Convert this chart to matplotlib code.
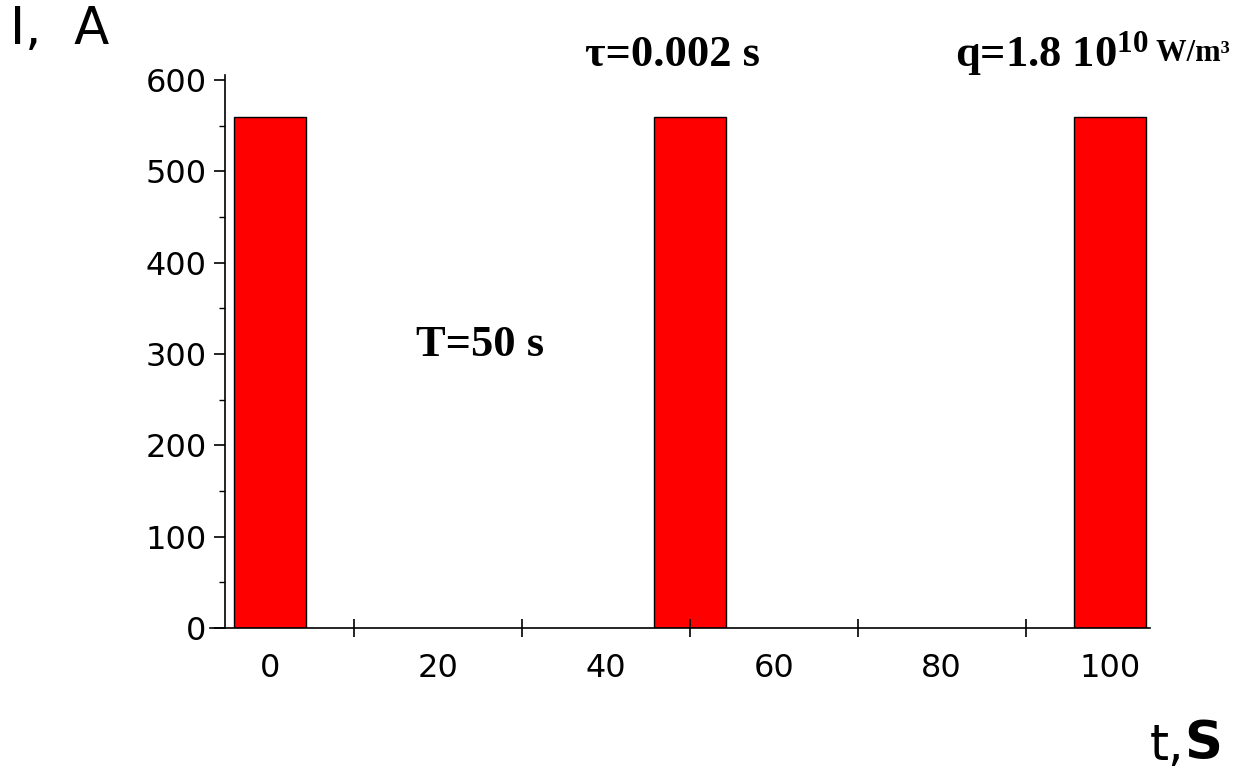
import numpy as np
import matplotlib.pyplot as plt
from matplotlib.ticker import FixedLocator, NullFormatter

plt.rcParams['mathtext.fontset'] = 'custom'
plt.rcParams['mathtext.rm'] = 'Liberation Serif:bold'
plt.rcParams['mathtext.bf'] = 'Liberation Serif:bold'
plt.rcParams['mathtext.it'] = 'Liberation Serif:bold'

# pulse data
pulse_t = [0, 50, 100]          # s, centre of each pulse
pulse_I = [560, 560, 560]       # A
pulse_w = 8.6                   # drawn width of a pulse, in s units

x_labels = [0, 20, 40, 60, 80, 100]
x_marks = [10, 30, 50, 70, 90]
y_major = [0, 100, 200, 300, 400, 500, 600]
y_minor = [50, 150, 250, 350, 450, 550]

W, H = 1254, 769
fig = plt.figure(figsize=(W / 100, H / 100), dpi=100)
ax = fig.add_axes([210 / W, 1 - 628 / H, 940 / W, 553 / H])

ax.bar(pulse_t, pulse_I, width=pulse_w, color='#ff0000',
       edgecolor='black', linewidth=1.0, zorder=1)

ax.set_xlim(-7.14, 104.8)
ax.set_ylim(0, 605.5)

for s in ['top', 'right']:
    ax.spines[s].set_visible(False)
ax.spines['left'].set_position(('data', -5.4))
ax.spines['left'].set_linewidth(1.2)
ax.spines['bottom'].set_linewidth(1.2)

sans = ['DejaVu Sans']
tick_font = dict(family=sans, size=23)

ax.xaxis.set_major_locator(FixedLocator(x_labels))
ax.xaxis.set_minor_locator(FixedLocator(x_marks))
ax.set_xticklabels([str(v) for v in x_labels], **tick_font)
ax.xaxis.set_minor_formatter(NullFormatter())
ax.tick_params(axis='x', which='major', length=0, pad=18)
ax.tick_params(axis='x', which='minor', length=13, width=1.2, direction='inout')

ax.yaxis.set_major_locator(FixedLocator(y_major))
ax.yaxis.set_minor_locator(FixedLocator(y_minor))
ax.set_yticklabels([str(v) for v in y_major], **tick_font)
ax.tick_params(axis='y', which='major', length=8, width=1.2, pad=5)
ax.tick_params(axis='y', which='minor', length=4, width=1.0)

# axis titles placed like the original
fig.text(10 / W, 1 - 5 / H, 'I,  A', ha='left', va='top', family=sans, size=37)
t1 = fig.text(1150 / W, 1 - 760 / H, 't,', ha='left', va='baseline',
              family=sans, size=35)
ax.annotate('S', xy=(1, 0), xycoords=t1, ha='left', va='bottom',
            family=sans, size=38, weight='heavy', annotation_clip=False)

serif = ['Liberation Serif', 'DejaVu Serif']
fig.text(585 / W, 1 - 66 / H, 'τ=0.002 s', ha='left', va='baseline',
         family=serif, weight='bold', size=32)
q = fig.text(955 / W, 1 - 66 / H, r'q=1.8 10$^{\mathbf{10}}$', ha='left',
             va='baseline', family=serif, weight='bold', size=32)
ax.annotate(' W/m³', xy=(1, 0), xycoords=q, xytext=(0, 7),
            textcoords='offset points', ha='left', va='bottom',
            family=serif, weight='bold', size=22, annotation_clip=False)
ax.text(25, 310, 'T=50 s', ha='center', va='center',
        family=serif, weight='bold', size=32)

fig.savefig('out.png', dpi=100)
